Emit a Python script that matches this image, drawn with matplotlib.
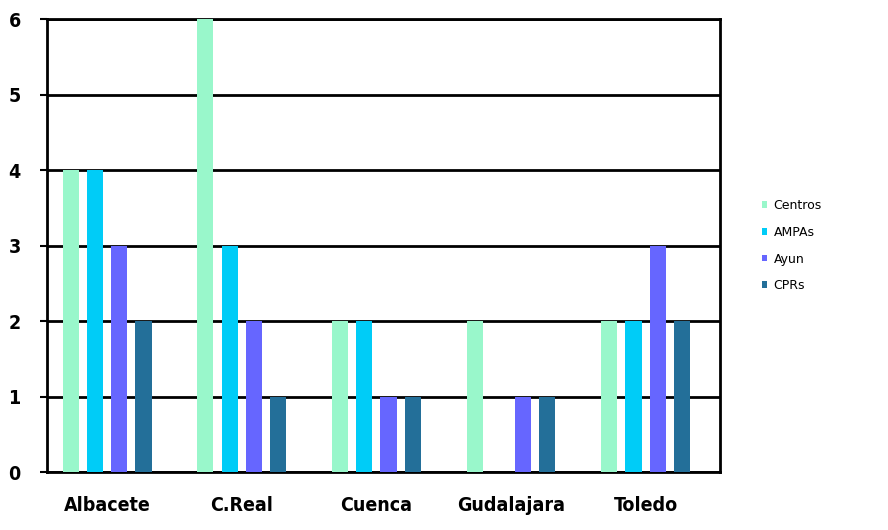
import numpy as np
import matplotlib.pyplot as plt

provincias = ['Albacete', 'C.Real', 'Cuenca', 'Gudalajara', 'Toledo']
series = ['Centros', 'AMPAs', 'Ayun', 'CPRs']
centros = [4, 6, 2, 2, 2]
ampas = [4, 3, 2, 0, 2]
ayun = [3, 2, 1, 1, 3]
cprs = [2, 1, 1, 1, 2]
valores = [centros, ampas, ayun, cprs]
colores = ['#99F7CB', '#00CCF7', '#6666FF', '#236F99']

fuente = ['Liberation Sans Narrow', 'DejaVu Sans']

fig = plt.figure(figsize=(8.88, 5.30), dpi=100)
ax = fig.add_axes([0.053, 0.109, 0.758, 0.855])

x = np.arange(len(provincias))
paso = 0.18
ancho = 0.12
for j, (nombre, v, c) in enumerate(zip(series, valores, colores)):
    ax.bar(x + (j - 1.5) * paso, v, width=ancho, color=c, label=nombre, zorder=3)

ax.set_ylim(0, 6)
ax.set_xlim(-0.446, 4.554)
ax.set_yticks(range(7))
ax.yaxis.grid(True, color='black', linewidth=2, zorder=0)
ax.set_axisbelow(True)
ax.set_xticks(x)
ax.set_xticklabels(provincias)
ax.tick_params(axis='x', length=0, pad=17)
ax.tick_params(axis='y', length=5, width=1.5, direction='out', pad=14)
for lab in ax.get_xticklabels() + ax.get_yticklabels():
    lab.set_family(fuente)
    lab.set_fontweight('bold')
    lab.set_fontstretch('condensed')
    lab.set_fontsize(14)
for s in ax.spines.values():
    s.set_color('black')
    s.set_linewidth(2)

leg = ax.legend(loc='center left', bbox_to_anchor=(1.045, 0.5), frameon=False,
                handlelength=0.45, handleheight=0.45, handletextpad=0.5,
                labelspacing=1.1, prop={'family': fuente, 'size': 9})

fig.savefig('out.png', dpi=100)
